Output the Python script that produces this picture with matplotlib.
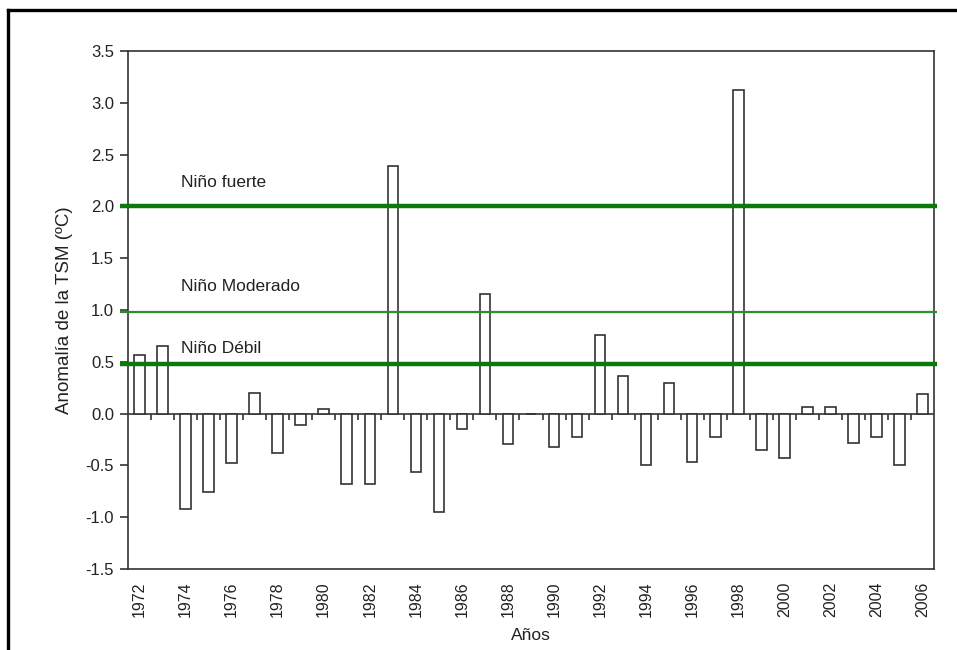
import matplotlib
matplotlib.use("Agg")
import matplotlib.pyplot as plt
from matplotlib.lines import Line2D
import numpy as np

plt.rcParams['font.family'] = ['Liberation Sans', 'DejaVu Sans']

years = list(range(1972, 2007))
anomalies = [0.57, 0.65, -0.92, -0.76, -0.48, 0.20, -0.385, -0.11, 0.04, -0.68,
             -0.68, 2.39, -0.56, -0.945, -0.145, 1.15, -0.295, 0.0, -0.32, -0.227,
             0.763, 0.362, -0.495, 0.297, -0.47, -0.227, 3.12, -0.347, -0.425, 0.067,
             0.067, -0.285, -0.227, -0.495, 0.19]
thresholds = [2.0, 0.98, 0.48]
threshold_labels = ["Niño fuerte", "Niño Moderado", "Niño Débil"]
label_y = [2.23, 1.23, 0.63]
tick_years = list(range(1972, 2007, 2))
yticks = [-1.5, -1.0, -0.5, 0.0, 0.5, 1.0, 1.5, 2.0, 2.5, 3.0, 3.5]

W, H = 957, 650
fig = plt.figure(figsize=(W / 100, H / 100), dpi=100)
ax = fig.add_axes([128 / W, 1 - 569 / H, (934 - 128) / W, (569 - 51) / H])

dark = '#333333'
ax.bar(years, anomalies, width=0.46, facecolor='white', edgecolor=dark,
       linewidth=1.2, zorder=3)

# zero line with boundary ticks pointing down
ax.axhline(0, color=dark, linewidth=1.2, zorder=2)
bounds = np.array(years[:-1]) + 0.5
ax.vlines(bounds, -0.057, 0, color=dark, linewidth=1.2, zorder=2)

# threshold lines (extend slightly beyond axes)
styles = [dict(color='#0a7a0a', lw=3.2), dict(color='#2a902a', lw=1.6),
          dict(color='#0a7a0a', lw=3.2)]
for t, st in zip(thresholds, styles):
    ln = Line2D([-0.01, 1.004], [t, t], transform=ax.get_yaxis_transform(),
                color=st['color'], linewidth=st['lw'], clip_on=False, zorder=4,
                solid_capstyle='butt')
    ax.add_line(ln)

for lab, yy in zip(threshold_labels, label_y):
    ax.text(1973.8, yy, lab, fontsize=12.5, color='#222222', va='center',
            ha='left', zorder=5)

ax.set_xlim(1971.5, 2006.5)
ax.set_ylim(-1.5, 3.5)
ax.set_yticks(yticks)
ax.set_yticklabels([f"{v:.1f}" for v in yticks])
ax.set_xticks(tick_years)
ax.set_xticklabels([str(y) for y in tick_years], rotation=90)
ax.tick_params(axis='x', length=0, pad=9, labelsize=11.5, labelcolor='#222222')
ax.tick_params(axis='y', length=6, width=1.2, color=dark, pad=4,
               labelsize=12, labelcolor='#222222')
for s in ax.spines.values():
    s.set_color(dark)
    s.set_linewidth(1.2)

ax.set_ylabel("Anomalía de la TSM (ºC)", fontsize=13.5, color='#222222')
ax.yaxis.set_label_coords(-0.068, 0.5)
fig.text(531 / W, 1 - 636 / H, "Años", fontsize=12.5, color='#222222',
         ha='center', va='center')

# outer frame (left and top only, image cropped)
fig.add_artist(Line2D([8 / W, 8 / W], [0, 1 - 10 / H], transform=fig.transFigure,
                      color='black', linewidth=2.4))
fig.add_artist(Line2D([8 / W, 1], [1 - 10 / H, 1 - 10 / H], transform=fig.transFigure,
                      color='black', linewidth=2.4))

fig.savefig("out.png", dpi=100, facecolor='white')
